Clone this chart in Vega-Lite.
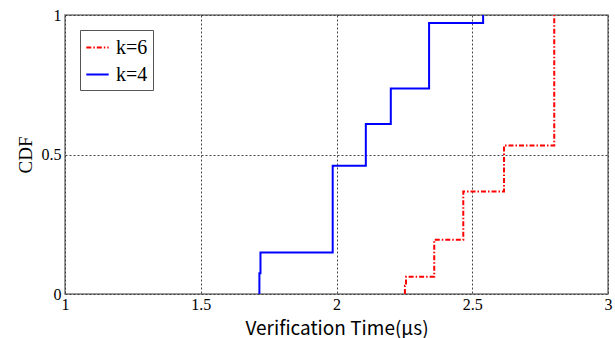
{
  "$schema": "https://vega.github.io/schema/vega-lite/v6.json",
  "width": 543,
  "height": 279,
  "autosize": {"type": "none"},
  "padding": {"left": 65, "top": 15, "right": 7, "bottom": 44},
  "background": "white",
  "config": {
    "view": {"stroke": "#7a7a7a", "strokeWidth": 1.5},
    "axis": {"domain": false, "ticks": false, "grid": true, "gridColor": "#333333", "gridDash": [2, 2], "gridWidth": 1, "gridOpacity": 0.9}
  },
  "data": {
    "values": [
      {"t": 2.252, "cdf": 0, "k": "k=6"},
      {"t": 2.252, "cdf": 0.03, "k": "k=6"},
      {"t": 2.256, "cdf": 0.062, "k": "k=6"},
      {"t": 2.36, "cdf": 0.194, "k": "k=6"},
      {"t": 2.467, "cdf": 0.367, "k": "k=6"},
      {"t": 2.617, "cdf": 0.532, "k": "k=6"},
      {"t": 2.802, "cdf": 1, "k": "k=6"},
      {"t": 1.716, "cdf": 0, "k": "k=4"},
      {"t": 1.716, "cdf": 0.074, "k": "k=4"},
      {"t": 1.72, "cdf": 0.149, "k": "k=4"},
      {"t": 1.986, "cdf": 0.46, "k": "k=4"},
      {"t": 2.108, "cdf": 0.609, "k": "k=4"},
      {"t": 2.2, "cdf": 0.737, "k": "k=4"},
      {"t": 2.341, "cdf": 0.971, "k": "k=4"},
      {"t": 2.54, "cdf": 1, "k": "k=4"}
    ]
  },
  "mark": {"type": "line", "interpolate": "step-after", "strokeWidth": 2},
  "encoding": {
    "x": {
      "field": "t", "type": "quantitative",
      "scale": {"domain": [1, 3], "nice": false, "zero": false},
      "axis": {
        "values": [1, 1.5, 2, 2.5, 3],
        "format": "~g",
        "title": "Verification Time(μs)",
        "titleFont": "Noto Sans CJK SC", "titleFontSize": 19, "titleFontWeight": "normal", "titleColor": "#000",
        "titlePadding": 7,
        "labelFont": "Liberation Serif", "labelFontSize": 16, "labelColor": "#000", "labelPadding": 2,
        "labelFlush": false, "labelOverlap": false
      }
    },
    "y": {
      "field": "cdf", "type": "quantitative",
      "scale": {"domain": [0, 1], "nice": false},
      "axis": {
        "values": [0, 0.5, 1],
        "format": "~g",
        "title": "CDF",
        "titleFont": "Liberation Serif", "titleFontSize": 19, "titleFontWeight": "normal", "titleColor": "#000",
        "titlePadding": 6,
        "labelFont": "Liberation Serif", "labelFontSize": 16, "labelColor": "#000", "labelPadding": 4,
        "labelFlush": false, "labelOverlap": false
      }
    },
    "order": {"field": "cdf"},
    "color": {
      "field": "k", "type": "nominal",
      "scale": {"domain": ["k=6", "k=4"], "range": ["#ff0000", "#0000ff"]},
      "legend": {
        "title": null, "orient": "none", "legendX": 15, "legendY": 15,
        "labelFont": "Liberation Serif", "labelFontSize": 20, "labelColor": "#000",
        "symbolType": "stroke", "symbolSize": 500, "symbolStrokeWidth": 2,
        "strokeColor": "#555555", "fillColor": "white", "padding": 5, "rowPadding": 4,
        "labelOffset": 6
      }
    },
    "strokeDash": {
      "field": "k", "type": "nominal",
      "scale": {"domain": ["k=6", "k=4"], "range": [[5, 2, 1.5, 2], [1, 0]]},
      "legend": null
    }
  }
}
